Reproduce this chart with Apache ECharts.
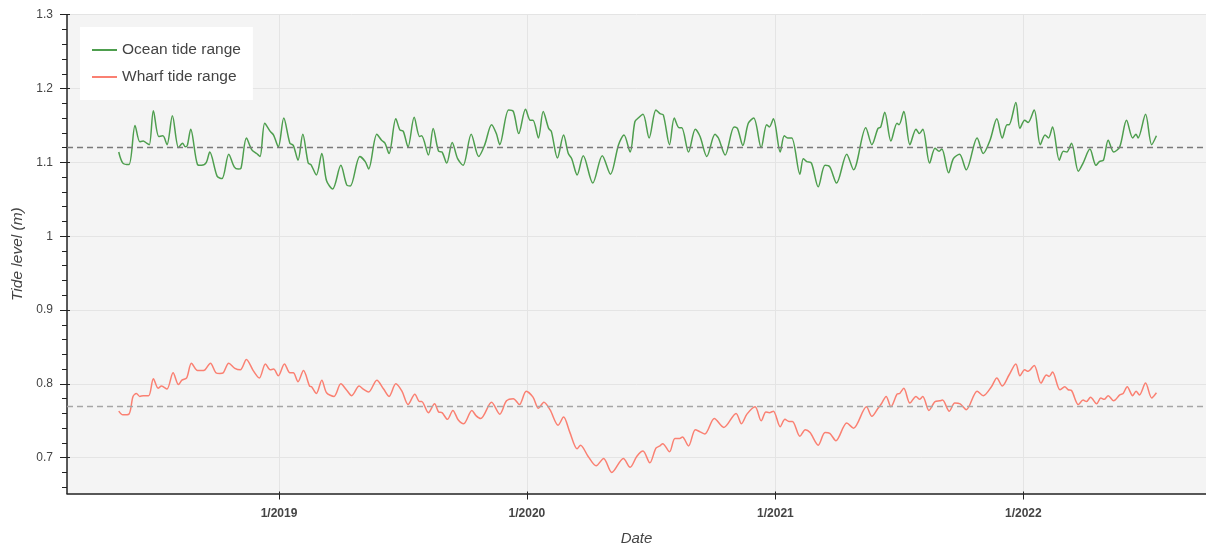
<!DOCTYPE html>
<html><head><meta charset="utf-8">
<script src="https://cdn.jsdelivr.net/npm/echarts@6/dist/echarts.min.js"></script>
<style>html,body{margin:0;padding:0;background:#fff}#c{width:1206px;height:552px}</style>
</head><body><div id="c"></div>
<script>
// dates are stored as day offsets from this epoch
const epoch = '2019-01-01';

const oceanDays = [-236,-230,-221,-212,-205,-200,-195,-191,-185,-177,-171,-165,-157,-148,-142,-138,-135,-130,-120,-114,-107,-102,-91,-84,-74,-66,-60,-56,-48,-40,-33,-28,-21,-13,-8,-1,7,16,21,28,35,43,47,55,63,70,79,91,100,105,119,127,132,
  144,151,156,162,172,178,183,190,199,207,210,220,227,235,240,247,255,263,271,283,294,303,313,320,325,338,345,353,363,370,374,382,389,397,401,410,419,426,431,439,448,462,476,488,500,508,517,
  524,529,536,545,555,561,566,575,582,589,593,603,613,620,630,642,647,657,670,675,683,691,699,710,718,722,728,738,744,749,755,767,772,777,784,794,804,811,821,836,846,864,873,882,886,892,901,
  910,913,920,929,938,943,948,958,966,972,976,986,993,1002,1012,1028,1037,1047,1057,1065,1072,1075,1085,1091,1098,1103,1112,1121,1128,1133,1139,1149,1155,1160,1167,1177,1184,1194,1203,1208,1214,1221,1229,1238,1248,1257,1262,1265,1276,1285,1292];
const oceanLevel = [1.114,1.099,1.097,1.150,1.128,1.129,1.126,1.124,1.170,1.135,1.136,1.124,1.163,1.120,1.126,1.121,1.123,1.145,1.097,1.096,1.100,1.114,1.081,1.078,1.111,1.094,1.091,1.092,1.133,1.117,1.112,1.108,1.153,1.142,1.137,1.121,1.160,1.126,1.123,1.103,1.138,1.099,1.097,1.083,1.112,1.075,1.064,1.096,1.069,1.068,1.108,1.101,1.091,
  1.138,1.130,1.126,1.112,1.159,1.144,1.142,1.121,1.161,1.135,1.136,1.110,1.146,1.115,1.114,1.099,1.127,1.105,1.096,1.138,1.108,1.124,1.151,1.139,1.124,1.171,1.169,1.139,1.172,1.157,1.157,1.133,1.169,1.146,1.142,1.106,1.137,1.112,1.105,1.083,1.109,1.072,1.109,1.084,1.124,1.137,1.114,
  1.155,1.160,1.165,1.133,1.171,1.166,1.164,1.124,1.160,1.147,1.147,1.114,1.145,1.135,1.108,1.138,1.133,1.110,1.148,1.146,1.123,1.153,1.160,1.120,1.151,1.148,1.159,1.114,1.136,1.133,1.133,1.084,1.105,1.101,1.099,1.067,1.096,1.094,1.072,1.111,1.090,1.147,1.124,1.146,1.148,1.168,1.129,
  1.153,1.151,1.169,1.124,1.145,1.139,1.145,1.099,1.119,1.115,1.118,1.086,1.105,1.111,1.090,1.133,1.112,1.130,1.159,1.133,1.151,1.151,1.181,1.146,1.157,1.154,1.171,1.124,1.137,1.133,1.148,1.103,1.115,1.114,1.126,1.088,1.099,1.118,1.096,1.101,1.103,1.130,1.114,1.121,1.157,1.133,1.138,1.133,1.165,1.124,1.136];

const wharfDays = [-236,-230,-221,-215,-210,-205,-200,-192,-185,-178,-173,-165,-156,-148,-143,-136,-129,-120,-114,-109,-101,-93,-87,-82,-74,-65,-57,-48,-38,-29,-20,-13,-8,-1,8,16,21,28,36,45,48,55,63,70,81,91,100,107,118,124,132,
  144,154,162,172,181,190,200,207,210,220,229,235,240,248,256,264,272,284,290,297,313,325,335,345,354,364,374,382,390,399,411,419,428,439,444,455,467,478,490,507,517,
  527,536,546,555,561,565,575,583,590,594,603,613,620,627,641,655,673,681,689,701,710,717,722,728,738,745,751,756,767,775,782,794,804,811,820,836,846,865,873,882,887,894,901,
  910,914,920,929,938,943,948,957,966,973,977,987,995,1003,1012,1028,1037,1049,1057,1065,1075,1085,1091,1098,1103,1112,1122,1130,1134,1139,1150,1157,1162,1167,1177,1184,1189,1195,1204,1210,1215,1221,1229,1238,1243,1249,1257,1262,1267,1276,1285,1292];
const wharfLevel = [0.763,0.758,0.759,0.783,0.787,0.783,0.784,0.784,0.807,0.794,0.797,0.793,0.815,0.799,0.805,0.808,0.828,0.818,0.818,0.819,0.828,0.815,0.814,0.815,0.828,0.821,0.819,0.833,0.818,0.808,0.827,0.819,0.820,0.811,0.827,0.815,0.815,0.803,0.818,0.797,0.796,0.787,0.805,0.788,0.783,0.800,0.791,0.784,0.797,0.793,0.789,
  0.805,0.793,0.783,0.800,0.790,0.772,0.786,0.776,0.776,0.761,0.773,0.762,0.761,0.752,0.764,0.751,0.746,0.764,0.757,0.753,0.775,0.759,0.777,0.780,0.772,0.790,0.782,0.767,0.775,0.765,0.744,0.755,0.735,0.712,0.717,0.702,0.689,0.699,0.680,0.699,0.687,
  0.702,0.709,0.693,0.713,0.716,0.719,0.708,0.726,0.726,0.728,0.716,0.738,0.735,0.732,0.753,0.741,0.760,0.746,0.759,0.769,0.750,0.762,0.761,0.763,0.742,0.752,0.749,0.749,0.729,0.738,0.734,0.717,0.734,0.733,0.723,0.747,0.740,0.769,0.756,0.767,0.773,0.783,0.769,
  0.786,0.787,0.794,0.774,0.783,0.779,0.783,0.764,0.776,0.777,0.778,0.763,0.774,0.773,0.765,0.790,0.784,0.796,0.808,0.797,0.812,0.827,0.811,0.819,0.817,0.825,0.801,0.812,0.810,0.816,0.792,0.796,0.792,0.791,0.772,0.778,0.776,0.782,0.773,0.781,0.779,0.784,0.777,0.785,0.787,0.796,0.784,0.790,0.785,0.801,0.781,0.788];

const oceanMean = 1.1235;
const wharfMean = 0.7713;

const seriesNames = ['Ocean tide range', 'Wharf tide range'];
const yTicks = [0.7, 0.8, 0.9, 1, 1.1, 1.2, 1.3];
const yMinorTicks = [0.66,0.68,0.72,0.74,0.76,0.78,0.82,0.84,0.86,0.88,0.92,0.94,0.96,0.98,1.02,1.04,1.06,1.08,1.12,1.14,1.16,1.18,1.22,1.24,1.26,1.28];
const xTicks = ['2019-01-01', '2020-01-01', '2021-01-01', '2022-01-01'];

const DAY = 86400000;
const t0 = Date.parse(epoch + 'T00:00:00Z');
const toT = d => t0 + d * DAY;
const xMin = toT(-312.2), xMax = toT(1365);
const yMin = 0.6515, yMax = 1.3;
const xTickT = xTicks.map(s => Date.parse(s + 'T00:00:00Z'));

const GREEN = '#4e9e4e', SALMON = '#fa8072', INK = '#222', TXT = '#444';
const FONT = '"Liberation Sans", Arial, Helvetica, sans-serif';

const chart = echarts.init(document.getElementById('c'), null, {renderer: 'canvas'});
const xFmt = v => { const d = new Date(v); return (d.getUTCMonth() + 1) + '/' + d.getUTCFullYear(); };

chart.setOption({
  animation: false,
  backgroundColor: '#fff',
  textStyle: {fontFamily: FONT},
  grid: {left: 67, right: 0, top: 14.7, bottom: 58.5, show: true, backgroundColor: '#f4f4f4', borderWidth: 0, containLabel: false, outerBoundsMode: 'none'},
  legend: {
    data: seriesNames, orient: 'vertical', left: 80, top: 27,
    backgroundColor: '#fff', padding: [15, 12, 15, 11], itemGap: 11,
    itemWidth: 25, itemHeight: 14,
    itemStyle: {opacity: 0},
    textStyle: {fontSize: 15.5, color: TXT, fontFamily: FONT}
  },
  xAxis: [
    {
      type: 'value', min: xMin, max: xMax, position: 'bottom',
      axisLine: {show: true, onZero: false, lineStyle: {color: INK, width: 1.5}},
      axisTick: {show: true, length: 6, customValues: xTickT, lineStyle: {color: INK, width: 1}},
      axisLabel: {customValues: xTickT, formatter: xFmt, fontSize: 12, fontWeight: 'bold', color: TXT, margin: 14, fontFamily: FONT},
      splitLine: {show: true, lineStyle: {color: '#e4e4e4', width: 1}},
      name: 'Date', nameLocation: 'middle', nameGap: 38,
      nameTextStyle: {fontSize: 15, fontStyle: 'italic', color: TXT, fontFamily: FONT}
    },
    {
      type: 'value', min: xMin, max: xMax, position: 'bottom',
      axisLine: {show: false, onZero: false},
      axisTick: {show: true, inside: true, length: 2, customValues: xTickT, lineStyle: {color: INK, width: 1}},
      axisLabel: {show: false}, splitLine: {show: false}
    }
  ],
  yAxis: [
    {
      type: 'value', min: yMin, max: yMax, position: 'left',
      axisLine: {show: true, onZero: false, lineStyle: {color: INK, width: 1.5}},
      axisTick: {show: true, length: 7, customValues: yTicks, lineStyle: {color: INK, width: 1}},
      axisLabel: {customValues: yTicks, formatter: v => String(+(+v).toFixed(1)), fontSize: 12, color: TXT, margin: 14, fontFamily: FONT},
      splitLine: {show: true, lineStyle: {color: '#e4e4e4', width: 1}},
      name: 'Tide level (m)', nameLocation: 'middle', nameGap: 41,
      nameTextStyle: {fontSize: 15.5, fontStyle: 'italic', color: TXT, fontFamily: FONT}
    },
    {
      type: 'value', min: yMin, max: yMax, position: 'left',
      axisLine: {show: false, onZero: false},
      axisTick: {show: true, length: 5, customValues: yMinorTicks, lineStyle: {color: INK, width: 1}},
      axisLabel: {show: false}, splitLine: {show: false}
    },
    {
      type: 'value', min: yMin, max: yMax, position: 'left',
      axisLine: {show: false, onZero: false},
      axisTick: {show: true, inside: true, length: 3, customValues: yTicks, lineStyle: {color: INK, width: 1}},
      axisLabel: {show: false}, splitLine: {show: false}
    }
  ],
  series: [
    {
      name: seriesNames[0], type: 'line', xAxisIndex: 0, yAxisIndex: 0,
      data: oceanDays.map((d, i) => [toT(d), oceanLevel[i]]),
      symbol: 'none', smooth: 0.3, z: 3,
      lineStyle: {color: GREEN, width: 1.5}, itemStyle: {color: GREEN},
      markLine: {silent: true, symbol: 'none', label: {show: false},
        lineStyle: {type: [6, 4], color: '#7a7a7a', width: 1.3},
        data: [{yAxis: oceanMean}]}
    },
    {
      name: seriesNames[1], type: 'line', xAxisIndex: 0, yAxisIndex: 0,
      data: wharfDays.map((d, i) => [toT(d), wharfLevel[i]]),
      symbol: 'none', smooth: 0.3, z: 3,
      lineStyle: {color: SALMON, width: 1.5}, itemStyle: {color: SALMON},
      markLine: {silent: true, symbol: 'none', label: {show: false},
        lineStyle: {type: [6, 4], color: '#a6a6a6', width: 1.3},
        data: [{yAxis: wharfMean}]}
    }
  ]
});
</script>
</body></html>
